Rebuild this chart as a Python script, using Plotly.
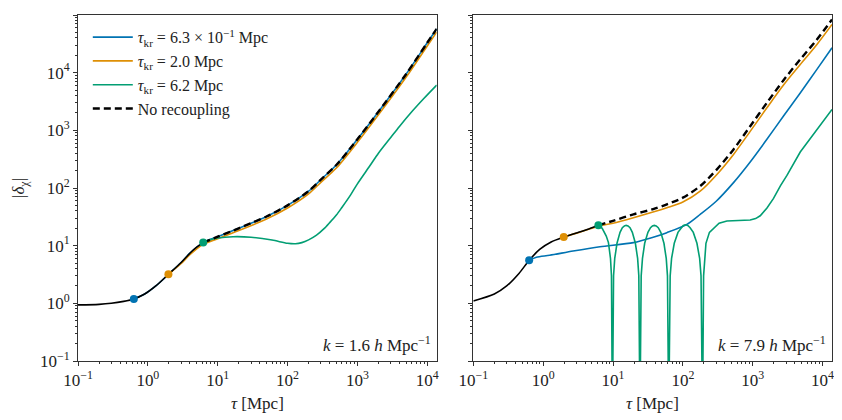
import plotly.graph_objects as go

# colours (seaborn colorblind)
BLUE = '#0173B2'
ORANGE = '#DE8F05'
GREEN = '#029E73'

# ---------- left panel: k = 1.6 h/Mpc ----------
L_early_tau = [0.1, 0.2, 0.3, 0.45, 0.63, 0.9, 1.3, 1.97, 3.0, 4.0, 5.0, 6.2]
L_early_delta = [0.94, 0.96, 1.0, 1.08, 1.19, 1.45, 2.0, 3.18, 5.1, 7.4, 9.4, 11.3]

L_norec_tau = [6.2, 10, 20, 30, 50, 100, 200, 300, 500, 1000, 2000, 5000, 10000, 13650]
L_norec_delta = [11.3, 14.3, 20, 24.5, 32, 50, 88, 140, 250, 700, 2100, 9500, 33000, 57500]

L_blue_tau = [0.63, 0.9, 1.3, 1.97, 3.0, 4.0, 6.2, 10, 20, 30, 50, 100, 200, 300, 500, 1000, 2000, 5000, 10000, 13650]
L_blue_delta = [1.19, 1.45, 2.0, 3.18, 5.1, 7.4, 11.3, 14.3, 20, 24.5, 32, 50, 88, 140, 250, 700, 2100, 9500, 33000, 57500]

L_orange_tau = [1.97, 3.0, 4.0, 6.2, 10, 20, 50, 100, 200, 300, 500, 1000, 2000, 5000, 10000, 13650]
L_orange_delta = [3.18, 4.9, 7.0, 10.6, 13.2, 18.3, 29, 45, 79, 125, 222, 620, 1860, 8400, 29000, 50500]

L_green_tau = [6.2, 8, 10, 16.6, 30, 60, 100, 130, 160, 200, 260, 330, 400, 500, 600, 800, 1000,
               1500, 2000, 3000, 4000, 6000, 9000, 13650]
L_green_delta = [11.3, 12.8, 13.6, 14.3, 14.0, 12.5, 11.0, 10.8, 11.3, 12.6, 15.2, 19.5, 25, 34, 46, 76, 118,
                 240, 400, 750, 1170, 2100, 3600, 6100]

L_dot_tau = [0.63, 1.97, 6.2]
L_dot_delta = [1.19, 3.18, 11.3]

# ---------- right panel: k = 7.9 h/Mpc ----------
R_early_tau = [0.1, 0.2, 0.3, 0.45, 0.63, 0.89, 1.3, 1.97, 3.0, 4.5, 6.17]
R_early_delta = [1.1, 1.45, 2.0, 3.3, 5.56, 8.6, 11.6, 14.1, 16.6, 19.5, 22.5]

R_norec_tau = [6.17, 10, 19.6, 37.6, 59, 100, 177, 307, 531, 920, 1596, 2760, 4790, 8300, 13650]
R_norec_delta = [22.5, 27, 35, 43, 52, 68, 108, 210, 467, 1180, 3000, 7400, 17000, 37600, 83600]

R_blue_tau = [0.63, 0.8, 1.24, 2.68, 6.5, 19.6, 37.6, 59, 114, 177, 300, 531, 920, 1596, 2760, 4790, 8300, 13650]
R_blue_delta = [5.56, 6.3, 6.8, 8.07, 9.6, 11.3, 14.0, 16.8, 23.4, 34.9, 59, 124, 283, 699, 1775, 4450, 11400, 27000]

R_orange_tau = [1.97, 3.0, 6.17, 10, 19.6, 59, 100, 177, 307, 531, 920, 1596, 2760, 4790, 8300, 13650]
R_orange_delta = [14.1, 16.5, 21.8, 24.5, 30.6, 45.5, 57, 88, 172, 382, 960, 2460, 6100, 13800, 30800, 68400]

R_green_tau = [6.17, 7.0, 8.0, 8.6, 9.2, 9.5, 9.8,
               10.18, 10.58, 11.4, 12.6, 13.6, 14.55, 15.4, 16.4, 17.5, 18.9, 20.9, 22.5, 23.4, 24.3,
               25.3, 26.4, 28.4, 31.6, 34.4, 36.7, 39.0, 41.5, 44.4, 48.3, 53.6, 57.8, 60.2, 62.7,
               65.8, 68.9, 75.3, 85.1, 94.2, 101.7, 109, 117.6, 127, 141, 159, 173.8, 182, 191,
               198, 214, 240, 274, 330, 427, 600, 920, 1100, 1280, 1600, 1985, 2500, 3090, 4790, 8300, 13650]
R_green_delta = [22.5, 20, 14.7, 11.3, 6.0, 3.0, 0.01,
                 3.0, 6.0, 11, 17, 20.5, 22, 22.5, 22, 20.5, 17, 11, 6.0, 3.0, 0.01,
                 3.0, 6.0, 11, 17, 20.5, 22, 22.5, 22, 20.5, 17, 11, 6.0, 3.0, 0.01,
                 3.0, 6.0, 11, 17, 20.5, 22.5, 23.0, 22.5, 20.5, 17, 11, 6.0, 3.0, 0.01,
                 3.0, 11, 17, 20, 24.5, 26.7, 27, 27.8, 29.5, 33, 45, 66, 110, 165, 420, 1000, 2300]

R_dot_tau = [0.63, 1.97, 6.17]
R_dot_delta = [5.56, 14.1, 22.5]

legend_names = [
    '<i>τ</i><sub>kr</sub> = 6.3 × 10<sup>−1</sup> Mpc',
    '<i>τ</i><sub>kr</sub> = 2.0 Mpc',
    '<i>τ</i><sub>kr</sub> = 6.2 Mpc',
    'No recoupling',
]
k_labels = ['<i>k</i> = 1.6 <i>h</i> Mpc<sup>−1</sup>', '<i>k</i> = 7.9 <i>h</i> Mpc<sup>−1</sup>']

tick_vals = [0.1, 1, 10, 100, 1000, 10000, 100000]
tick_text = ['10<sup>−1</sup>', '10<sup>0</sup>', '10<sup>1</sup>', '10<sup>2</sup>',
             '10<sup>3</sup>', '10<sup>4</sup>', '10<sup>5</sup>']

FONT = 'Liberation Serif'
AX = '#333333'
TXT = '#222222'

fig = go.Figure()


def add_panel(xa, ya, early, norec, blue, orange, green, dots, legend, green_shape):
    smooth = dict(shape='spline', smoothing=0.8)
    # coloured curves first, black dashed on top
    fig.add_trace(go.Scatter(x=blue[0], y=blue[1], mode='lines', line=dict(color=BLUE, width=1.6, **smooth),
                             name=legend_names[0], showlegend=legend, legendrank=1, xaxis=xa, yaxis=ya))
    fig.add_trace(go.Scatter(x=orange[0], y=orange[1], mode='lines', line=dict(color=ORANGE, width=1.6, **smooth),
                             name=legend_names[1], showlegend=legend, legendrank=2, xaxis=xa, yaxis=ya))
    fig.add_trace(go.Scatter(x=green[0], y=green[1], mode='lines', line=dict(color=GREEN, width=1.6, **green_shape),
                             name=legend_names[2], showlegend=legend, legendrank=3, xaxis=xa, yaxis=ya))
    fig.add_trace(go.Scatter(x=early[0], y=early[1], mode='lines', line=dict(color='black', width=1.6, **smooth),
                             showlegend=False, xaxis=xa, yaxis=ya))
    fig.add_trace(go.Scatter(x=norec[0], y=norec[1], mode='lines',
                             line=dict(color='black', width=2.4, dash='7px,4px', **smooth),
                             name=legend_names[3], showlegend=legend, legendrank=4, xaxis=xa, yaxis=ya))
    fig.add_trace(go.Scatter(x=dots[0], y=dots[1], mode='markers', marker=dict(color=[BLUE, ORANGE, GREEN], size=8),
                             showlegend=False, xaxis=xa, yaxis=ya))


add_panel('x', 'y', (L_early_tau, L_early_delta), (L_norec_tau, L_norec_delta), (L_blue_tau, L_blue_delta),
          (L_orange_tau, L_orange_delta), (L_green_tau, L_green_delta), (L_dot_tau, L_dot_delta), True,
          dict(shape='spline', smoothing=0.8))
add_panel('x2', 'y2', (R_early_tau, R_early_delta), (R_norec_tau, R_norec_delta), (R_blue_tau, R_blue_delta),
          (R_orange_tau, R_orange_delta), (R_green_tau, R_green_delta), (R_dot_tau, R_dot_delta), False,
          dict(shape='linear'))

minor_vals = [m * 10 ** e for e in range(-1, 5) for m in range(2, 10)]
axis_common = dict(type='log', showgrid=False, zeroline=False, showline=True, mirror=True, linecolor=AX, linewidth=1,
                   ticks='outside', ticklen=4, tickwidth=1, tickcolor=AX,
                   minor=dict(ticks='outside', ticklen=2, tickwidth=0.8, tickcolor=AX, tickvals=minor_vals, showgrid=False),
                   tickvals=tick_vals, ticktext=tick_text, tickfont=dict(family=FONT, size=17, color=TXT))

# the page body adds an 8px offset, so the figure is 8px smaller and margins compensate
fig.update_layout(
    width=834, height=412,
    margin=dict(l=70, r=10, t=7, b=59),
    plot_bgcolor='white', paper_bgcolor='white',
    font=dict(family=FONT, size=17, color=TXT),
    xaxis=dict(axis_common, domain=[0, 0.4757], range=[-1, 4.135], anchor='y'),
    yaxis=dict(axis_common, range=[-1, 5], anchor='x'),
    xaxis2=dict(axis_common, domain=[0.5243, 1], range=[-1, 4.135], anchor='y2'),
    yaxis2=dict(axis_common, range=[-1, 5], anchor='x2', showticklabels=False),
    legend=dict(x=0.013, y=0.985, xanchor='left', yanchor='top', bgcolor='rgba(0,0,0,0)',
                font=dict(family=FONT, size=16, color=TXT), itemwidth=40, tracegroupgap=0),
    showlegend=True,
)

for xd, yd, label in [('x domain', 'y domain', k_labels[0]), ('x2 domain', 'y2 domain', k_labels[1])]:
    fig.add_annotation(text=label, xref=xd, yref=yd, x=0.99, y=0.012,
                       xanchor='right', yanchor='bottom', showarrow=False, font=dict(family=FONT, size=17))
    fig.add_annotation(text='<i>τ</i> [Mpc]', xref=xd, yref='paper', x=0.5, y=-0.124,
                       xanchor='center', yanchor='middle', showarrow=False, font=dict(family=FONT, size=17))

fig.add_annotation(text='|<i>δ</i><sub>χ</sub>|', xref='paper', yref='paper', x=-0.077, y=0.5,
                   xanchor='center', yanchor='middle', textangle=-90, showarrow=False, font=dict(family=FONT, size=17))

fig.write_html('out.html')
